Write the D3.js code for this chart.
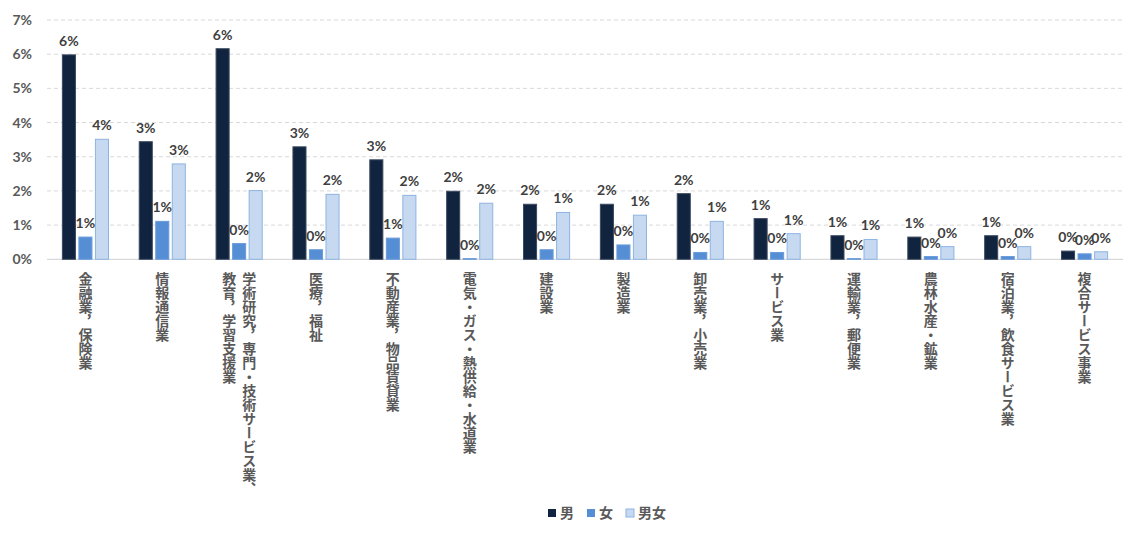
<!DOCTYPE html>
<html>
<head>
<meta charset="utf-8">
<script src="https://cdn.jsdelivr.net/npm/d3@7"></script>
<style>
  body { margin: 0; background: #fff; }
  text { font-family: "Lato", "Noto Sans CJK JP", sans-serif; }
</style>
</head>
<body>
<div id="container"></div>
<script>
// categories and values (%)
let categories = ["金融業，保険業", "情報通信業", "学術研究，専門・技術サービス業、教育，学習支援業",
  "医療，福祉", "不動産業，物品賃貸業", "電気・ガス・熱供給・水道業", "建設業", "製造業",
  "卸売業，小売業", "サービス業", "運輸業，郵便業", "農林水産・鉱業", "宿泊業，飲食サービス業",
  "複合サービス事業"];
let seriesNames = ["男", "女", "男女"];
let male   = [5.98, 3.44, 6.16, 3.29, 2.91, 1.99, 1.61, 1.61, 1.92, 1.19, 0.69, 0.65, 0.69, 0.24];
let female = [0.65, 1.11, 0.46, 0.28, 0.62, 0.02, 0.28, 0.42, 0.20, 0.20, 0.02, 0.08, 0.08, 0.16];
let both   = [3.51, 2.79, 2.01, 1.90, 1.87, 1.64, 1.37, 1.29, 1.11, 0.75, 0.58, 0.37, 0.37, 0.22];
let yTicks = [0, 1, 2, 3, 4, 5, 6, 7];

let W = 1132, H = 546;
let plotLeft = 47, plotRight = 1123, plotTop = 20, plotBottom = 259.3;

let fills   = ["#10233F", "#558ED5", "#C6D9F1"];
let strokes = ["#3B4A60", "#6A9BDA", "#8DB4E2"];

let svg = d3.select("#container").append("svg")
    .attr("width", W)
    .attr("height", H);

svg.append("rect").attr("width", W).attr("height", H).attr("fill", "#fff");

let x0 = d3.scaleBand()
    .domain(categories)
    .range([plotLeft, plotRight])
    .paddingInner(0.4)
    .paddingOuter(0.2);

let x1 = d3.scaleBand()
    .domain(seriesNames)
    .range([0, x0.bandwidth()])
    .paddingInner(0.21)
    .paddingOuter(0);

let y = d3.scaleLinear()
    .domain([0, 7])
    .range([plotBottom, plotTop]);

// grid
svg.append("g").selectAll("line").data(yTicks.slice(1))
  .enter().append("line")
    .attr("x1", plotLeft).attr("x2", plotRight)
    .attr("y1", d => y(d)).attr("y2", d => y(d))
    .attr("stroke", "#d9d9d9")
    .attr("stroke-dasharray", "4,3");

// y axis labels
let yAxis = d3.axisLeft(y).tickValues(yTicks).tickSize(0).tickPadding(0)
    .tickFormat(d => d + "%");
let yg = svg.append("g").attr("transform", "translate(32,0)").call(yAxis);
yg.select(".domain").remove();
yg.selectAll("text")
    .attr("font-size", 14).attr("font-weight", "bold").attr("fill", "#595959")
    .style("font-family", "Lato, 'Noto Sans CJK JP', sans-serif");

// baseline
svg.append("line")
    .attr("x1", plotLeft).attr("x2", plotRight)
    .attr("y1", y(0)).attr("y2", y(0))
    .attr("stroke", "#d9d9d9").attr("stroke-width", 1.2);

let data = categories.map((c, i) => ({
  category: c,
  values: [
    {name: "男", value: male[i], k: 0},
    {name: "女", value: female[i], k: 1},
    {name: "男女", value: both[i], k: 2}
  ]
}));

let graph = svg.selectAll(".graph").data(data)
  .enter().append("g")
    .attr("class", "graph")
    .attr("transform", d => "translate(" + x0(d.category) + ",0)");

graph.selectAll("rect").data(d => d.values)
  .enter().append("rect")
    .attr("x", d => x1(d.name))
    .attr("width", x1.bandwidth())
    .attr("y", d => y(d.value))
    .attr("height", d => y(0) - y(d.value))
    .attr("fill", d => fills[d.k])
    .attr("stroke", d => strokes[d.k])
    .attr("stroke-width", 1);

graph.selectAll(".lbl").data(d => d.values)
  .enter().append("text")
    .attr("class", "lbl")
    .attr("x", d => x1(d.name) + x1.bandwidth() / 2)
    .attr("y", d => y(d.value) - 9)
    .attr("text-anchor", "middle")
    .attr("font-size", 14)
    .attr("font-weight", "bold")
    .attr("fill", "#404040")
    .text(d => Math.round(d.value) + "%");

// vertical category labels
function wrap(s, n) {
  let out = [];
  for (let i = 0; i < s.length; i += n) out.push(s.slice(i, i + n));
  return out;
}
let xl = svg.append("g").attr("class", "xlabels");
categories.forEach(c => {
  let lines = wrap(c, 16);
  let cx = x0(c) + x0.bandwidth() / 2;
  lines.forEach((ln, j) => {
    let off = (lines.length - 1) * 10 - j * 20;
    xl.append("text")
      .attr("x", cx + off)
      .attr("y", 272)
      .style("writing-mode", "vertical-rl")
      .style("font-family", "'Noto Sans CJK JP', sans-serif")
      .attr("font-size", 14)
      .attr("font-weight", "bold")
      .attr("fill", "#595959")
      .text(ln);
  });
});

// legend
let legX = [548, 587, 626];
let lg = svg.selectAll(".legend").data(seriesNames)
  .enter().append("g")
    .attr("class", "legend")
    .attr("transform", (d, i) => "translate(" + legX[i] + ",509)");
lg.append("rect")
    .attr("width", 8).attr("height", 8)
    .attr("fill", (d, i) => fills[i])
    .attr("stroke", (d, i) => i == 2 ? strokes[i] : "none");
lg.append("text")
    .attr("x", 12).attr("y", 9)
    .attr("font-size", 14).attr("font-weight", "bold")
    .attr("fill", "#595959")
    .style("font-family", "'Noto Sans CJK JP', sans-serif")
    .text(d => d);
</script>
</body>
</html>
